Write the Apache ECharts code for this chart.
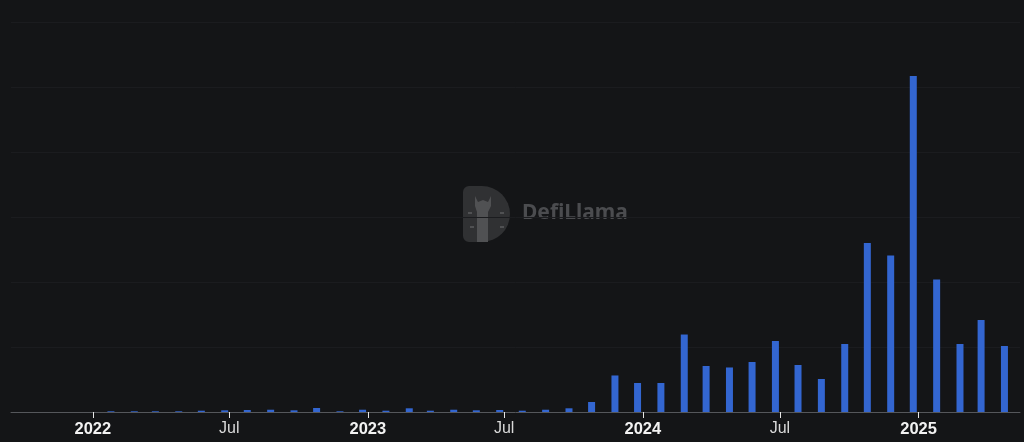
<!DOCTYPE html>
<html>
<head>
<meta charset="utf-8">
<script src="https://cdn.jsdelivr.net/npm/echarts@6/dist/echarts.min.js"></script>
<style>
html,body{margin:0;padding:0;background:#141517;}
#chart{width:1024px;height:442px;}
</style>
</head>
<body>
<div id="chart"></div>
<script>
// Monthly bar dates (bars sit ~a week before each month boundary)
const dates = [
  '2022-01-25','2022-02-25','2022-03-25','2022-04-25','2022-05-25','2022-06-25',
  '2022-07-25','2022-08-25','2022-09-25','2022-10-25','2022-11-25','2022-12-25',
  '2023-01-25','2023-02-25','2023-03-25','2023-04-25','2023-05-25','2023-06-25',
  '2023-07-25','2023-08-25','2023-09-25','2023-10-25','2023-11-25','2023-12-25',
  '2024-01-25','2024-02-25','2024-03-25','2024-04-25','2024-05-25','2024-06-25',
  '2024-07-25','2024-08-25','2024-09-25','2024-10-25','2024-11-25','2024-12-25',
  '2025-01-25','2025-02-25','2025-03-25','2025-04-25'
];
const values = [
  0.011,0.011,0.011,0.011,0.020,0.026,
  0.031,0.035,0.026,0.062,0.011,0.035,
  0.020,0.057,0.020,0.035,0.026,0.031,
  0.020,0.035,0.057,0.154,0.562,0.446,
  0.446,1.192,0.708,0.685,0.769,1.092,
  0.723,0.508,1.046,2.600,2.408,5.170,
  2.038,1.046,1.415,1.015
];
// Tick labels: year at January, 'Jul' at July (half-year steps)
const monthNames = ['Jan','Feb','Mar','Apr','May','Jun','Jul','Aug','Sep','Oct','Nov','Dec'];
const axisMin = '2021-09-19';
const axisMax = '2025-05-11';

function toTs(s){ const p = s.split('-').map(Number); return new Date(p[0], p[1]-1, p[2]).getTime(); }
const HALF_YEAR = 182 * 24 * 3600 * 1000;

const chart = echarts.init(document.getElementById('chart'), null, {renderer:'canvas'});
chart.setOption({
  backgroundColor:'#141517',
  animation:false,
  grid:{left:11, right:4, top:22, bottom:30, containLabel:false},
  xAxis:{
    type:'time',
    min:toTs(axisMin),
    max:toTs(axisMax),
    minInterval:HALF_YEAR,
    maxInterval:HALF_YEAR,
    axisLine:{show:true, lineStyle:{color:'#55575b', width:1}},
    axisTick:{show:true, length:6, lineStyle:{color:'#e6e6e6', width:1}},
    splitLine:{show:false},
    axisLabel:{
      margin:9,
      showMinLabel:false,
      showMaxLabel:false,
      formatter:function(v){
        const d = new Date(v);
        if (d.getMonth() === 0) return '{y|' + d.getFullYear() + '}';
        return '{m|' + monthNames[d.getMonth()] + '}';
      },
      rich:{
        y:{fontFamily:'Liberation Sans, Arial, sans-serif', fontSize:16.5, fontWeight:'bold', color:'#f2f2f2'},
        m:{fontFamily:'Liberation Sans, Arial, sans-serif', fontSize:16, fontWeight:'normal', color:'#d9d9d9'}
      }
    }
  },
  yAxis:{
    type:'value',
    min:0, max:6, interval:1,
    axisLabel:{show:false},
    axisLine:{show:false},
    axisTick:{show:false},
    splitLine:{show:true, lineStyle:{color:'#1b1c1f', width:1}}
  },
  graphic:[
    {type:'group', left:463, top:186, children:[
      {type:'rect', shape:{x:0,y:0,width:47,height:56,r:[6,28,28,6]}, style:{fill:'#303133'}},
      {type:'polygon', shape:{points:[[12,10],[15,16],[20,14],[25,16],[28,10],[28,20],[25,26],[25,56],[14,56],[14,26],[12,20]]}, style:{fill:'#505153'}},
      {type:'rect', shape:{x:5,y:26,width:4,height:2}, style:{fill:'#505153'}},
      {type:'rect', shape:{x:37,y:26,width:4,height:2}, style:{fill:'#505153'}},
      {type:'rect', shape:{x:7,y:40,width:4,height:2}, style:{fill:'#505153'}},
      {type:'rect', shape:{x:37,y:40,width:4,height:2}, style:{fill:'#505153'}}
    ]},
    {type:'text', left:522, top:203, style:{text:'DefiLlama', fill:'#4b4c4f', font:'bold 21px "Noto Sans", sans-serif'}}
  ],
  series:[{
    type:'bar',
    data:dates.map((d,i)=>[toTs(d), values[i]]),
    barWidth:7,
    itemStyle:{color:'#3366d1'},
    z:3
  }]
});
</script>
</body>
</html>
